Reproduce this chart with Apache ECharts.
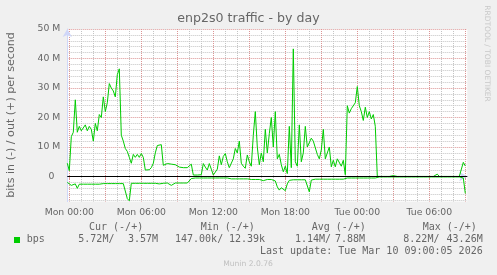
<!DOCTYPE html>
<html><head><meta charset="utf-8">
<script src="https://cdn.jsdelivr.net/npm/echarts@6/dist/echarts.min.js"></script>
<style>html,body{margin:0;padding:0;background:#f0f0f0}#c{width:497px;height:275px}</style>
</head><body><div id="c"></div>
<script>
// ---- data (Mbit/s), one sample every 10 minutes starting Sun 23:50 ----
const outM = [
 4.5, 2.0, 13.5, 15, 26, 15, 17, 15.5, 15, 17.5,
 15.5, 17, 16, 12, 18, 15.5, 21, 20, 27, 22,
 25, 31.5, 30, 29, 27, 34.5, 36.5, 14, 12, 9.5,
 8.5, 6.5, 4.5, 7.5, 6.5, 7.5, 6.5, 7.8, 6.5, 2.2,
 2.8, 2.3, 3, 4.5, 8, 10.5, 10, 10.8, 3.8, 4.2,
 4.4, 4.5, 4.2, 4.3, 4.0, 3.5, 3.2, 3.5, 3.0, 3.3,
 3.0, 3.3, 4.2, 0.5, 0.4, 0.5, 0.4, 0.6, 4.4, 3.2,
 2.2, 4.4, 2.5, 0.5, 0.8, 2.5, 7, 4, 6.8, 7.8,
 5, 3, 3.3, 6, 9.5, 8, 12, 4.5, 3.5, 2.8,
 7.3, 5, 3.5, 14, 22, 10, 4, 8, 5, 16,
 8, 14.5, 20, 10, 22, 6, 7.5, 4, 1.6, 3.5,
 1.0, 17, 3, 43.26, 5, 3.5, 17.5, 5, 8, 17,
 10, 10, 13, 12, 12.5, 7.5, 6, 9, 16, 6,
 6.5, 10, 3.3, 5.5, 3.3, 6, 6.5, 3.5, 5.5, 0.6,
 24, 21.5, 23, 22.5, 25, 30.5, 24, 22, 19, 23.5,
 20, 22, 19.5, 21, 17, 0.05, 0.03, 0.03, 0.03, 0.03,
 0.03, 0.03, 0.03, 0.3, 0.03, 0.03, 0.03, 0.03, 0.03, 0.03,
 0.03, 0.03, 0.03, 0.03, 0.03, 0.03, 0.03, 0.03, 0.03, 0.03,
 0.03, 0.03, 0.03, 0.03, 0.03, 0.8, 0.03, 0.03, 0.03, 0.03,
 0.03, 0.03, 0.03, 0.03, 0.03, 0.03, 0.03, 0.03, 4.8, 3.57
];
const inM = [
 -2.0, -2.2, -3.0, -3.2, -2.5, -4.0, -2.6, -2.8, -2.6, -2.6,
 -2.6, -2.6, -2.6, -2.6, -2.6, -2.6, -2.6, -2.4, -2.4, -2.4,
 -2.4, -2.4, -2.4, -2.4, -2.4, -2.4, -2.4, -2.4, -2.4, -2.5,
 -7.5, -8.22, -2.3, -2.3, -2.3, -2.3, -2.3, -2.3, -2.3, -2.3,
 -2.3, -2.3, -2.3, -2.3, -2.3, -2.4, -2.5, -2.3, -2.3, -2.2,
 -2.2, -2.2, -3.0, -2.4, -2.2, -2.2, -2.2, -2.2, -2.2, -2.2,
 -2.2, -2.2, -0.7, -0.5, -0.5, -0.5, -0.5, -0.5, -0.5, -0.5,
 -0.5, -0.5, -0.5, -0.5, -0.5, -0.5, -0.5, -0.5, -0.5, -0.5,
 -0.5, -0.8, -0.8, -0.8, -0.8, -0.8, -0.8, -0.8, -0.8, -0.8,
 -0.8, -1.2, -1.0, -1.0, -1.0, -1.0, -1.0, -1.0, -1.4, -1.0,
 -1.0, -1.0, -1.0, -1.0, -1.5, -3.5, -4.6, -3.8, -4.4, -4.8,
 -2.5, -1.3, -1.1, -1.1, -1.1, -1.1, -1.1, -1.1, -1.1, -1.1,
 -1.5, -5.2, -1.2, -0.9, -0.9, -0.9, -0.9, -0.9, -0.9, -0.9,
 -0.9, -0.9, -0.9, -0.9, -0.9, -0.9, -0.9, -0.9, -0.9, -0.9,
 -0.5, -0.5, -0.5, -0.5, -0.5, -0.5, -0.5, -0.5, -0.5, -0.5,
 -0.5, -0.5, -0.5, -0.5, -0.5, -0.15, -0.15, -0.15, -0.15, -0.15,
 -0.15, -0.15, -0.15, -0.15, -0.15, -0.15, -0.15, -0.15, -0.15, -0.15,
 -0.15, -0.15, -0.15, -0.15, -0.15, -0.15, -0.15, -0.15, -0.15, -0.15,
 -0.15, -0.15, -0.15, -0.15, -0.15, -0.15, -0.15, -0.15, -0.15, -0.15,
 -0.15, -0.15, -0.15, -0.15, -0.15, -0.15, -0.15, -0.2, -0.5, -5.72
];
const xTickLabels = ['Mon 00:00', 'Mon 06:00', 'Mon 12:00', 'Mon 18:00', 'Tue 00:00', 'Tue 06:00'];
const yTickValues = [0, 10, 20, 30, 40, 50];
const legendHeader = ['Cur (-/+)', 'Min (-/+)', 'Avg (-/+)', 'Max (-/+)'];
const legendName = 'bps';
const legendValues = [['5.72M/', '3.57M'], ['147.00k/', '12.39k'], ['1.14M/', '7.88M'], ['8.22M/', '43.26M']];
const lastUpdate = 'Last update: Tue Mar 10 09:00:05 2026';

// ---- categories (10 min steps from Sun 23:50) ----
const days = ['Sun', 'Mon', 'Tue'];
const startMin = -10, stepMin = 10, nCats = 201;
const pad = n => (n < 10 ? '0' : '') + n;
const cats = [];
for (let i = 0; i < nCats; i++) {
  const m = startMin + i * stepMin;
  const d = Math.floor((m + 1440) / 1440);
  const mm = ((m % 1440) + 1440) % 1440;
  cats.push(days[d] + ' ' + pad(Math.floor(mm / 60)) + ':' + pad(mm % 60));
}
const padTo = a => a.concat(new Array(nCats - a.length).fill(null));
const isHour = v => v.endsWith(':00');
const isMajor = v => isHour(v) && parseInt(v.slice(4, 6), 10) % 3 === 0;

const majorGrid = '#dc9494', minorGrid = '#c4c4c4', axisCol = '#CFD6F8', fontCol = '#666666';
const yColors = new Array(20).fill('rgba(0,0,0,0)');
yColors[1] = yColors[5] = yColors[9] = yColors[13] = minorGrid;
yColors[17] = majorGrid;

const F = 'DejaVu Sans', FM = 'DejaVu Sans Mono';
const txt = (text, x, y, o) => Object.assign({
  type: 'text', x: x, y: y, silent: true,
  style: Object.assign({ text: text, fontFamily: F, fontSize: 10, fill: fontCol,
    align: 'left', textAlign: 'left', verticalAlign: 'middle', textVerticalAlign: 'middle' }, o && o.style)
}, o && o.el);

const hdrX = [89, 200.7, 311.7, 422.7];
const valLX = [78.3, 175, 295, 403.3];
const valRX = [158, 265, 365, 482.7];
const graphics = [
  txt('enp2s0 traffic - by day', 248.5, 19, { style: { fontSize: 12.6, align: 'center', textAlign: 'center' } }),
  txt('bits in (-) / out (+) per second', 10.7, 115, { style: { fontSize: 11.1, align: 'center', textAlign: 'center' }, el: { rotation: Math.PI / 2 } }),
  txt('RRDTOOL / TOBI OETIKER', 487, 53.5, { style: { fontSize: 7.5, fill: '#c8c8c8', align: 'center', textAlign: 'center' }, el: { rotation: -Math.PI / 2 } }),
  txt('Munin 2.0.76', 248, 264.5, { style: { fontSize: 7.6, fill: '#c0c0c0', align: 'center', textAlign: 'center' } }),
  { type: 'rect', silent: true, shape: { x: 14, y: 237, width: 6, height: 6 }, style: { fill: '#00cc00' } },
  txt(legendName, 26.7, 239.3, { style: { fontFamily: FM, fontSize: 10 } }),
  txt(lastUpdate, 482.7, 251, { style: { fontFamily: FM, fontSize: 10, align: 'right', textAlign: 'right' } })
];
legendHeader.forEach((h, k) => graphics.push(txt(h, hdrX[k], 227.7, { style: { fontFamily: FM, fontSize: 10 } })));
legendValues.forEach((p, k) => {
  graphics.push(txt(p[0], valLX[k], 239.3, { style: { fontFamily: FM, fontSize: 10 } }));
  graphics.push(txt(p[1], valRX[k], 239.3, { style: { fontFamily: FM, fontSize: 10, align: 'right', textAlign: 'right' } }));
});

const chart = echarts.init(document.getElementById('c'), null, { renderer: 'canvas' });
chart.setOption({
  backgroundColor: '#f0f0f0',
  animation: false,
  grid: { left: 67.3, right: 29.7, top: 29, bottom: 73.4, show: true, backgroundColor: '#ffffff', borderWidth: 0 },
  xAxis: {
    type: 'category', data: cats, boundaryGap: false,
    axisLine: { show: true, lineStyle: { color: axisCol, width: 1 }, symbol: ['none', 'arrow'], symbolSize: [7, 8] },
    axisTick: { show: true, interval: (i, v) => isMajor(v), length: 3, lineStyle: { color: majorGrid } },
    axisLabel: { interval: (i, v) => xTickLabels.indexOf(v) >= 0, color: fontCol, fontFamily: F, fontSize: 9.3, margin: 6 },
    splitLine: { show: true, interval: (i, v) => isHour(v), lineStyle: { color: [majorGrid, minorGrid, minorGrid], type: [1, 1], width: 1 } }
  },
  yAxis: {
    type: 'value', min: -8.5, max: 50, interval: 0.5,
    axisLine: { show: true, lineStyle: { color: axisCol, width: 1 }, symbol: ['none', 'arrow'], symbolSize: [7, 8] },
    axisTick: { show: false },
    axisLabel: {
      color: fontCol, fontFamily: F, fontSize: 9.3, margin: 7,
      formatter: v => {
        const r = Math.round(v);
        if (Math.abs(v - r) > 1e-6 || yTickValues.indexOf(r) < 0) return '';
        return r === 0 ? '0\u00a0\u00a0' : r + ' M';
      }
    },
    splitLine: { show: true, lineStyle: { color: yColors, type: [1, 1], width: 1 } }
  },
  series: [
    { type: 'line', name: 'out', data: padTo(outM), symbol: 'none', showSymbol: false, silent: true,
      lineStyle: { color: '#00cc00', width: 1 }, itemStyle: { color: '#00cc00' } },
    { type: 'line', name: 'in', data: padTo(inM), symbol: 'none', showSymbol: false, silent: true,
      lineStyle: { color: '#00cc00', width: 1 }, itemStyle: { color: '#00cc00' },
      markLine: { silent: true, symbol: 'none', label: { show: false }, animation: false,
        lineStyle: { color: '#000000', width: 1, type: 'solid' }, data: [{ yAxis: 0 }] } }
  ],
  graphic: graphics
});
</script></body></html>
